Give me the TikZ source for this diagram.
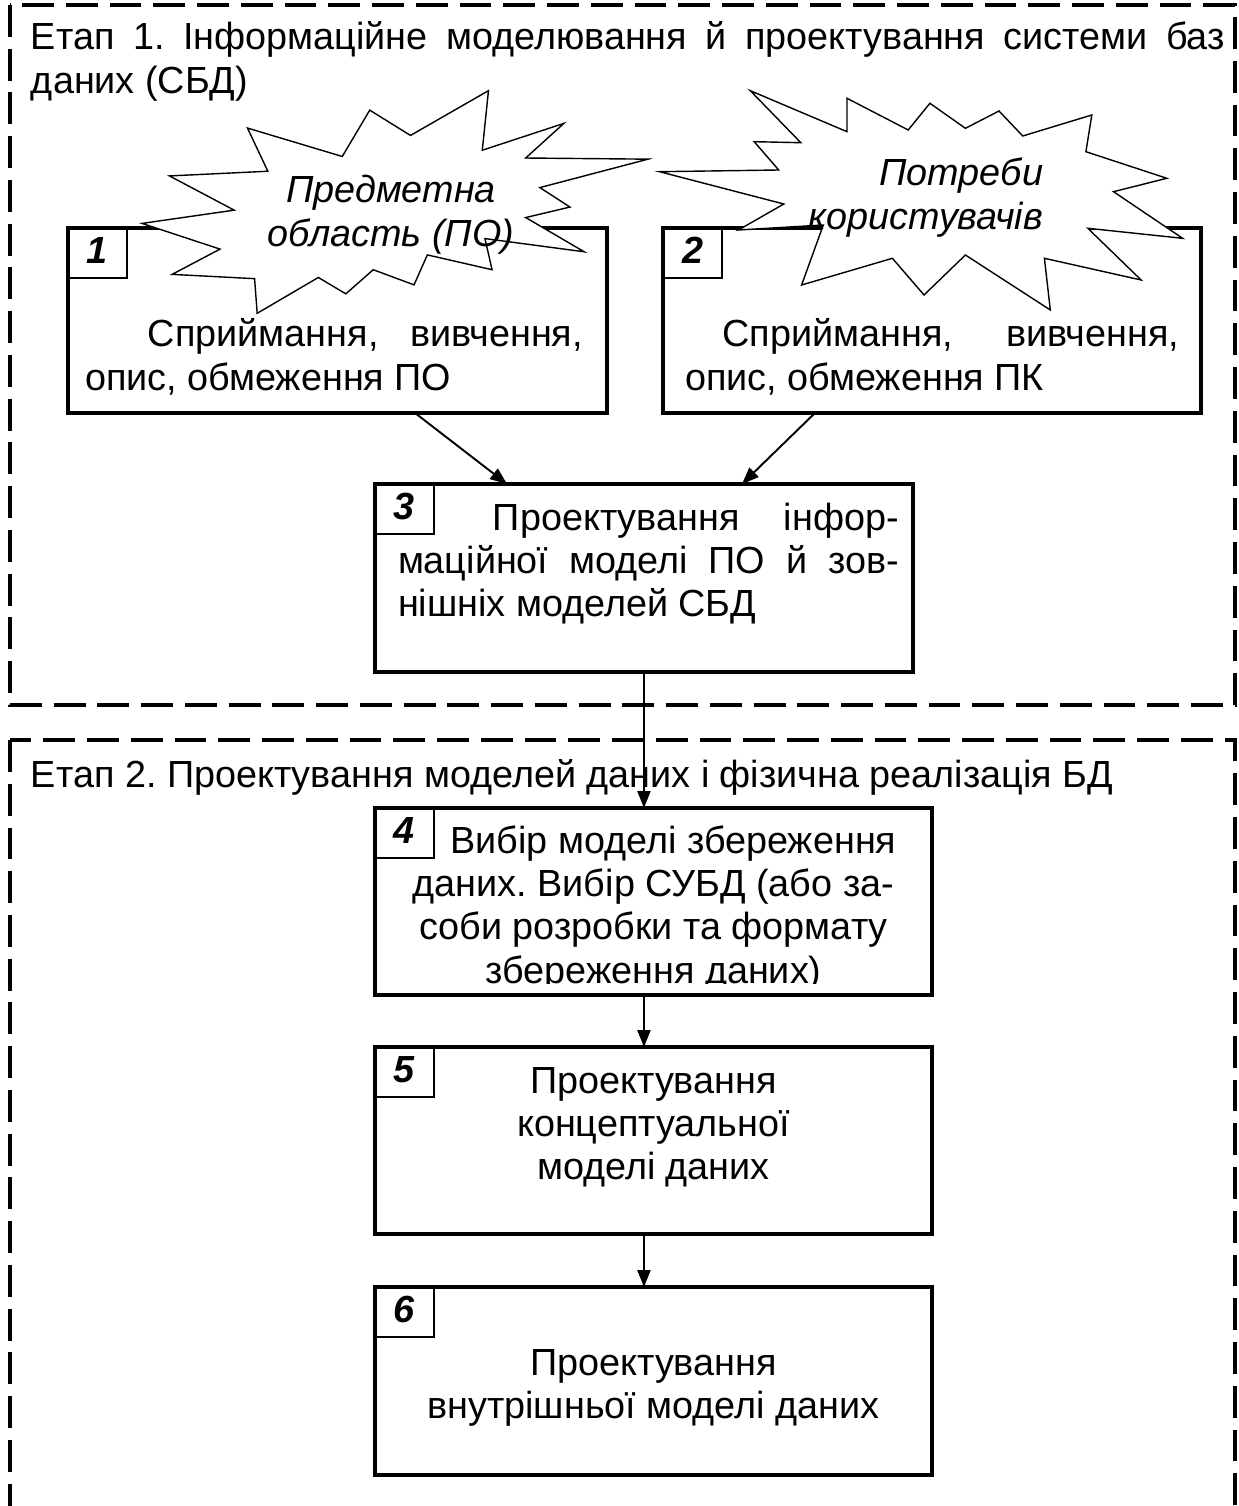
\documentclass[tikz,border=0pt]{standalone}
\usepackage{fontspec}
\setmainfont{Liberation Sans}
\usetikzlibrary{calc,arrows.meta}
\frenchspacing
\newcommand{\diagfont}{\fontsize{21.5pt}{24.7pt}\selectfont}
\tikzset{
  stagebox/.style={draw, line width=1.9pt, rectangle, anchor=north west, inner sep=0pt, outer sep=0pt},
  numbox/.style={draw, line width=0.9pt, anchor=north west, minimum width=1.18cm, minimum height=1cm, inner sep=0pt, outer sep=0pt, font=\diagfont\bfseries\itshape, text height=15.4pt, text depth=3pt},
  stageframe/.style={line width=2.6pt, dash pattern=on 18.1pt off 6.8pt},
  seal/.style={draw, fill=white, line width=0.8pt, line join=miter},
  flow/.style={-{Triangle[length=9.6pt,width=7.4pt]}, line width=1.1pt},
  lbl/.style={inner sep=0pt, outer sep=0pt, font=\diagfont}
}

\begin{document}
\begin{tikzpicture}[x=0.02cm, y=-0.02cm]
\useasboundingbox (0,0) rectangle (1239,1506);
\clip (0,0) rectangle (1239,1506);
\draw[stageframe] (10,5) rectangle (1235,705);
\draw[stageframe] (10,740) rectangle (1235,1560);
\node[lbl, anchor=base west] (stage1) at (31,50) {\parbox[t]{23.88cm}{Етап 1. Інформаційне моделювання й проектування системи баз\linebreak даних (СБД)}};
\node[lbl, anchor=base west] (stage2) at (31,787) {Етап 2. Проектування моделей даних і фізична реалізація БД};
\node[stagebox, minimum width=10.78cm, minimum height=3.7cm] (box1) at (68,228) {};
\node[stagebox, minimum width=10.76cm, minimum height=3.7cm] (box2) at (663,228) {};
\node[numbox] (num1) at (box1.north west) {1};
\node[numbox] (num2) at (box2.north west) {2};
\draw[seal, shift={(142,90.7)}, xscale=5.06, yscale=2.226] (53.06,20.10) -- (68.47,0) -- (67.25,26.75) -- (83.37,14.69) -- (75.83,30.24) -- (100,30.76) -- (78.63,43.53) -- (84.58,52.27) -- (75.83,56.99) -- (87.39,72.37) -- (67.78,66.44) -- (69.18,80.42) -- (56.39,73.77) -- (53.76,87.23) -- (45.70,80.42) -- (40.28,91.26) -- (34.85,83.91) -- (22.76,100) -- (22.25,84.44) -- (5.95,82.52) -- (15.42,71.16) -- (0,59.62) -- (18.22,53.67) -- (5.43,38.29) -- (24.87,36.19) -- (20.84,16.78) -- (39.58,29.55) -- (45.01,8.74) -- cycle;
\draw[seal] (750.3,90.7) -- (847.0,131.7) -- (847.0,98.3) -- (908.2,130) -- (929.9,103.3) -- (965.4,128.3) -- (999.0,111) -- (1022.7,136) -- (1091.8,115) -- (1085.9,151.7) -- (1166.8,178.3) -- (1113.5,191.7) -- (1182.6,238.3) -- (1087.8,228.3) -- (1141.1,280) -- (1044.4,258.3) -- (1050.3,310) -- (965.4,255) -- (924.0,295) -- (892.4,258.3) -- (801.6,285) -- (823.3,225) -- (738.4,230) -- (783.8,204) -- (659.5,171.7) -- (778.7,170) -- (754.2,141.7) -- (800.8,142.7) -- cycle;
\node[lbl, anchor=base] (areatxt) at (391,203) {\parbox[t]{6cm}{\centering\itshape Предметна\\область (ПО)}};
\node[lbl, anchor=base east] (needtxt) at (1043,186) {\parbox[t]{6cm}{\raggedleft\itshape Потреби\\користувачів}};
\node[lbl, anchor=base west] (txt1) at ($(box1.north west)+(17,119)$) {\parbox[t]{9.96cm}{\hspace*{1.26cm}Сприймання, вивчення,\linebreak опис, обмеження ПО}};
\node[lbl, anchor=base west] (txt2) at ($(box2.north west)+(22,119)$) {\parbox[t]{9.88cm}{\hspace*{0.75cm}Сприймання, вивчення,\linebreak опис, обмеження ПК}};
\node[stagebox, minimum width=10.76cm, minimum height=3.76cm] (box3) at (375,484) {};
\node[numbox] (num3) at (box3.north west) {3};
\node[lbl, anchor=base west] (txt3) at ($(box3.north west)+(23,46)$) {\parbox[t]{10.02cm}{\hspace*{1.9cm}Проектування інфор-\linebreak маційної моделі ПО й зов-\linebreak нішніх моделей СБД}};
\node[stagebox, minimum width=11.14cm, minimum height=3.74cm] (box4) at (375,808) {};
\node[numbox] (num4) at (box4.north west) {4};
\begin{scope}
\clip (box4.north west) rectangle ($(box4.north east)+(0,175)$);
\node[lbl, anchor=base] (txt4) at ($(box4.north)+(0,45)$) {\parbox[t]{10.6cm}{\centering\hspace*{0.8cm}Вибір моделі збереження\\даних. Вибір СУБД (або за-\\соби розробки та формату\\збереження даних)}};
\end{scope}
\node[stagebox, minimum width=11.14cm, minimum height=3.74cm] (box5) at (375,1047) {};
\node[numbox] (num5) at (box5.north west) {5};
\node[lbl, anchor=base] (txt5) at ($(box5.north)+(0,46)$) {\parbox[t]{10.6cm}{\centering Проектування\\концептуальної\\моделі даних}};
\node[stagebox, minimum width=11.14cm, minimum height=3.76cm] (box6) at (375,1287) {};
\node[numbox] (num6) at (box6.north west) {6};
\node[lbl, anchor=base] (txt6) at ($(box6.north)+(0,88)$) {\parbox[t]{10.6cm}{\centering Проектування\\внутрішньої моделі даних}};
\path (box1.south west) ++(347,0) coordinate (out1);
\path (box3.north west) ++(132,0) coordinate (in1);
\path (box2.south west) ++(152,0) coordinate (out2);
\path (box3.north west) ++(367,0) coordinate (in2);
\draw[flow] (out1) -- (in1);
\draw[flow] (out2) -- (in2);
\draw[flow] (box3.south) -- (box3.south |- box4.north);
\draw[flow] (box3.south |- box4.south) -- (box3.south |- box5.north);
\draw[flow] (box3.south |- box5.south) -- (box3.south |- box6.north);
\end{tikzpicture}
\end{document}
